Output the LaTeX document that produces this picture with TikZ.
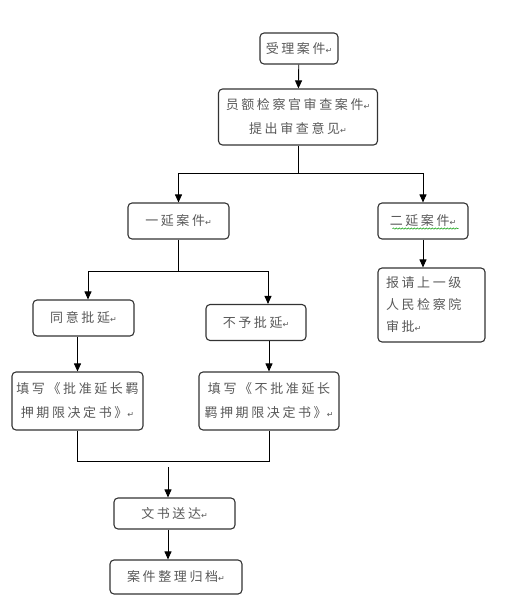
\documentclass[tikz,border=0pt]{standalone}
\usepackage{fontspec}
\newfontfamily\cjk[LetterSpace=20]{Noto Sans CJK SC}
\newfontfamily\symfam{DejaVu Sans}
\usetikzlibrary{arrows.meta,decorations.pathmorphing}
\newcommand{\ret}{{\symfam\fontsize{8}{8}\selectfont ↵}}

\begin{document}
\begin{tikzpicture}[x=1pt, y=-1pt, line width=0.9pt,
  >={Triangle[length=8pt,width=7pt]},
  box/.style={draw=black!80, line width=1.1pt, rounded corners=4pt, inner sep=0pt,
              text=black!65, font=\cjk\fontsize{13}{24}\selectfont}]

  \useasboundingbox (0,0) rectangle (511,609);

  % Nodes
  \draw (299  ,48.5)  node(accept)  [box, minimum width=78,  minimum height=31] {受理案件\ret};
  \draw (298  ,117)   node(review)  [box, minimum width=159, minimum height=56, align=center] {员额检察官审查案件\ret\\提出审查意见\ret};
  \draw (178.5,221)   node(first)   [box, minimum width=101, minimum height=36] {一延案件\ret};
  \draw (423  ,221)   node(second)  [box, minimum width=90,  minimum height=36] {二延案件\ret};
  \draw (431.5,305)   node(report)  [box, minimum width=107, minimum height=74, align=left, text width=91,
                                     font=\cjk\fontsize{13}{22}\selectfont] {报请上一级\\人民检察院\\审批\ret};
  \draw (83.5 ,318)   node(agree)   [box, minimum width=101, minimum height=36] {同意批延\ret};
  \draw (256  ,322.5) node(deny)    [box, minimum width=100, minimum height=36] {不予批延\ret};
  \draw (77.5 ,401)   node(fill1)   [box, minimum width=131, minimum height=58, align=center] {填写《批准延长羁\\押期限决定书》\ret};
  \draw (269  ,401)   node(fill2)   [box, minimum width=140, minimum height=58, align=center] {填写《不批准延长\\羁押期限决定书》\ret};
  \draw (174.5,513.5) node(send)    [box, minimum width=121, minimum height=31] {文书送达\ret};
  \draw (176  ,577)   node(archive) [box, minimum width=132, minimum height=34] {案件整理归档\ret};

  \coordinate (split) at (298,173);
  \coordinate (forkl) at (88,271);
  \coordinate (forkr) at (268,271);
  \coordinate (join)  at (168,461);
  \coordinate (out)   at (168,467);

  % Edges
  \draw[->] (accept) -- (review);
  \draw (review.south) -- (split);
  \draw[->] (split) -| (first.north);
  \draw[->] (split) -| (second.north);
  \draw[->] (second.south) -- (second.south |- report.north);

  \draw (first.south) -- (first.south |- forkl);
  \draw (forkl) -- (forkr);
  \draw[->] (forkl) -- (forkl |- agree.north);
  \draw[->] (forkr) -- (forkr |- deny.north);
  \draw[->] (fill1.north |- agree.south) -- (fill1.north);
  \draw[->] (fill2.north |- deny.south) -- (fill2.north);

  \draw (fill1.south) -- (fill1.south |- join) -- (fill2.south |- join) -- (fill2.south);
  \draw[->] (out) -- (out |- send.north);
  \draw[->] (out |- send.south) -- (out |- archive.north);

  % wavy mark
  \draw[green!60!black, line width=0.5pt, decorate, decoration={snake, amplitude=0.7pt, segment length=3pt}]
    ([xshift=15,yshift=11]second.south west) -- ([xshift=-10,yshift=11]second.south east);
\end{tikzpicture}
\end{document}
